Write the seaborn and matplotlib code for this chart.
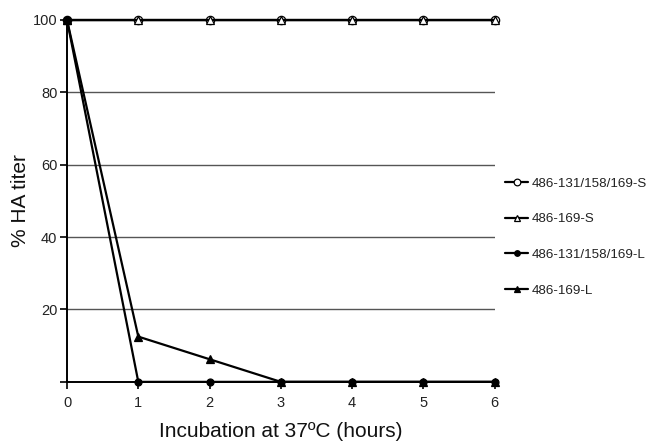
import seaborn as sns
import pandas as pd
import numpy as np
import matplotlib.pyplot as plt

hours = [0, 1, 2, 3, 4, 5, 6]
s_131 = [100, 100, 100, 100, 100, 100, 100]
s_169 = [100, 100, 100, 100, 100, 100, 100]
l_131 = [100, 0, 0, 0, 0, 0, 0]
l_169 = [100, 12.5, 6.25, 0, 0, 0, 0]
names = ['486-131/158/169-S', '486-169-S', '486-131/158/169-L', '486-169-L']

sns.set_style('white')
plt.rcParams['font.family'] = ['Liberation Sans', 'DejaVu Sans']

fig = plt.figure(figsize=(6.57, 4.43), dpi=100)
ax = fig.add_axes([0.102, 0.138, 0.651, 0.817])

styles = [
    dict(marker='o', mfc='white', ms=6),
    dict(marker='^', mfc='white', ms=6),
    dict(marker='o', mfc='black', ms=5),
    dict(marker='^', mfc='black', ms=6),
]
for vals, name, st in zip([s_131, s_169, l_131, l_169], names, styles):
    sns.lineplot(x=hours, y=vals, ax=ax, color='black', lw=1.6, label=name,
                 marker=st['marker'], markersize=st['ms'],
                 markerfacecolor=st['mfc'], markeredgecolor='black',
                 markeredgewidth=0.9, clip_on=False, zorder=3)

ax.set_xlim(0, 6)
ax.set_ylim(0, 100)
ax.set_xticks(hours)
ax.set_yticks([0, 20, 40, 60, 80, 100])
ax.set_yticklabels(['', '20', '40', '60', '80', '100'])
ax.yaxis.grid(True, color='#555555', lw=1)
ax.set_axisbelow(True)
for s in ['top', 'right']:
    ax.spines[s].set_visible(False)
for s in ['left', 'bottom']:
    ax.spines[s].set_color('black')
    ax.spines[s].set_linewidth(1.4)
ax.tick_params(axis='both', direction='out', length=5, width=1.2,
               bottom=True, left=True, colors='black',
               labelcolor='#222222', labelsize=10.5, pad=2)
ax.tick_params(axis='x', pad=5)
ax.set_xlabel('Incubation at 37ºC (hours)', fontsize=15, labelpad=9,
              color='#111111')
ax.set_ylabel('% HA titer', fontsize=15, labelpad=2, color='#111111')

leg = ax.legend(loc='center left', bbox_to_anchor=(1.0, 0.40), frameon=False,
                fontsize=9.6, handlelength=1.7, handletextpad=0.3,
                labelspacing=1.75, borderaxespad=0.4, markerscale=0.8)
for t in leg.get_texts():
    t.set_color('#222222')

plt.savefig('out.png', dpi=100)
